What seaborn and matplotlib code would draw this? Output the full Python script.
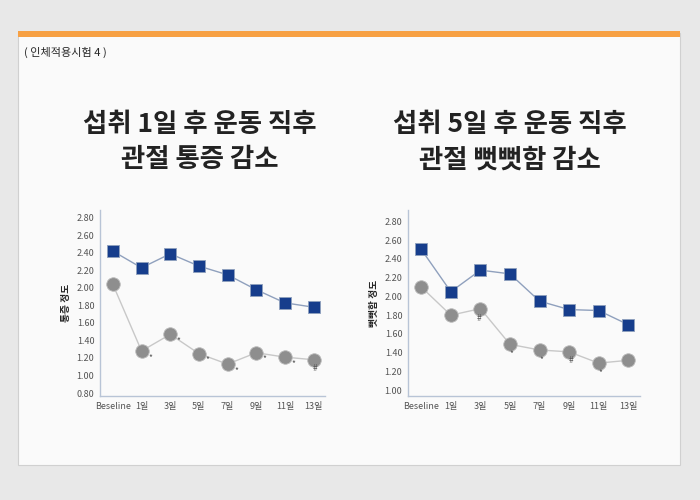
import matplotlib
matplotlib.use("Agg")
import matplotlib.pyplot as plt
import seaborn as sns
from matplotlib.patches import Rectangle

sns.set_style("white")
plt.rcParams['font.family'] = ['Noto Sans CJK KR', 'DejaVu Sans']

days = ["Beseline", "1일", "3일", "5일", "7일", "9일", "11일", "13일"]
pain_ctrl = [2.42, 2.23, 2.39, 2.25, 2.15, 1.98, 1.83, 1.78]
pain_test = [2.04, 1.28, 1.47, 1.25, 1.13, 1.26, 1.21, 1.18]
pain_marks = ["", "*", "*", "*", "*", "*", "*", "#"]
stiff_ctrl = [2.50, 2.05, 2.28, 2.24, 1.95, 1.86, 1.85, 1.70]
stiff_test = [2.10, 1.80, 1.87, 1.49, 1.43, 1.41, 1.29, 1.32]
stiff_marks = ["", "", "#", "*", "*", "#", "*", ""]
pain_ticks = [0.8, 1.0, 1.2, 1.4, 1.6, 1.8, 2.0, 2.2, 2.4, 2.6, 2.8]
stiff_ticks = [1.0, 1.2, 1.4, 1.6, 1.8, 2.0, 2.2, 2.4, 2.6, 2.8]

fig = plt.figure(figsize=(7, 5), dpi=100)
fig.patch.set_facecolor("#e8e8e8")
fig.patches.append(Rectangle((18/700, 1-465/500), 662/700, 432/500, transform=fig.transFigure,
                             facecolor="#fafafa", edgecolor="#d0d0d0", lw=0.8, zorder=-2))
fig.patches.append(Rectangle((18/700, 1-37/500), 662/700, 6/500, transform=fig.transFigure,
                             facecolor="#f7a043", edgecolor="none", zorder=-1))
fig.text(24/700, 1-52/500, "( 인체적용시험 4 )", fontsize=8, va="center")
fig.text(200/700, 1-142/500, "섭취 1일 후 운동 직후\n관절 통증 감소", fontsize=19, ha="center",
         va="center", linespacing=1.4, fontweight="bold", color="#222")
fig.text(510/700, 1-142/500, "섭취 5일 후 운동 직후\n관절 뻣뻣함 감소", fontsize=19, ha="center",
         va="center", linespacing=1.4, fontweight="bold", color="#222")

def panel(rect, ctrl, test, marks, ticks, ylim, ylabel, mark_dy):
    ax = fig.add_axes(rect)
    ax.set_facecolor("#fafafa")
    x = list(range(len(days)))
    sns.lineplot(x=x, y=ctrl, ax=ax, color="#8fa0bd", lw=1, zorder=2)
    sns.lineplot(x=x, y=test, ax=ax, color="#c8c8c8", lw=1, zorder=2)
    sns.scatterplot(x=x, y=ctrl, ax=ax, marker="s", s=80, color="#163d8c",
                    edgecolor="#8fa0bd", linewidth=0.6, zorder=3)
    sns.scatterplot(x=x, y=test, ax=ax, marker="o", s=95, color="#8e8e8e",
                    edgecolor="#bbbbbb", linewidth=0.6, zorder=3)
    for i, m in enumerate(marks):
        if m:
            dx, dy = mark_dy[i]
            ax.text(i + dx, test[i] + dy, m, fontsize=6, ha="center", va="center", color="#555")
    ax.set_xticks(x)
    ax.set_xticklabels(days, fontsize=6.5, color="#555")
    ax.set_yticks(ticks)
    ax.set_yticklabels([f"{t:.2f}" for t in ticks], fontsize=6.5, color="#555")
    ax.set_xlim(-0.45, 7.4)
    ax.set_ylim(*ylim)
    ax.tick_params(length=0, pad=4)
    for s in ["top", "right"]:
        ax.spines[s].set_visible(False)
    for s in ["left", "bottom"]:
        ax.spines[s].set_color("#b8c4d6")
        ax.spines[s].set_linewidth(1)
    ax.set_ylabel(ylabel, fontsize=7, fontweight="bold", labelpad=4)
    return ax

panel([100/700, 0.208, 225/700, 0.372], pain_ctrl, pain_test, pain_marks, pain_ticks,
      (0.766, 2.89), "통증 정도", {i: (0.3, -0.07) for i in range(8)} | {7: (0.05, -0.1)})
panel([408/700, 0.208, 232/700, 0.372], stiff_ctrl, stiff_test, stiff_marks, stiff_ticks,
      (0.94, 2.92), "뻣뻣함 정도", {i: (0.05, -0.1) for i in range(8)} | {2: (-0.05, -0.11), 5: (0.05, -0.09)})

fig.savefig("out.png", dpi=100, facecolor=fig.get_facecolor())
